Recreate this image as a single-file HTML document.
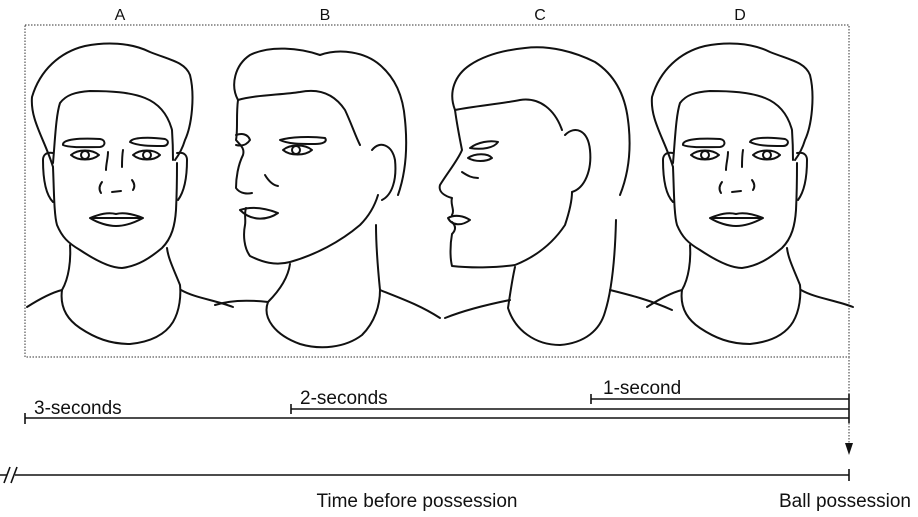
<!DOCTYPE html>
<html><head><meta charset="utf-8"><style>
html,body{margin:0;padding:0;background:#fff;}
svg{display:block;}
text{font-family:"Liberation Sans",sans-serif;fill:#111;}
.l{fill:none;stroke:#111;stroke-width:2;stroke-linecap:round;stroke-linejoin:round;}
.t{fill:none;stroke:#111;stroke-width:1.6;}
</style></head><body>
<svg width="918" height="517" viewBox="0 0 918 517">
<rect x="25" y="25" width="824" height="332" fill="none" stroke="#333" stroke-width="1" stroke-dasharray="1.5,1.5"/>
<text x="120" y="20" font-size="16" text-anchor="middle">A</text>
<text x="325" y="20" font-size="16" text-anchor="middle">B</text>
<text x="540" y="20" font-size="16" text-anchor="middle">C</text>
<text x="740" y="20" font-size="16" text-anchor="middle">D</text>

<g id="faceA">
<path class="l" d="M53,167 C45,140 30,120 32,97 C40,70 60,52 85,46 C105,42 130,42 150,52 C170,60 185,62 190,75 C195,95 192,125 185,140 C182,150 178,156 175,160"/>
<path class="l" d="M53,163 C55,140 56,115 60,103 C66,95 75,92 90,91 C110,91 130,92 145,98 C160,104 168,115 172,130 C173,145 173,155 173,160"/>
<path class="l" d="M53,153 C46,152 43,155 43,160 C43,180 46,195 53,202"/>
<path class="l" d="M177,153 C184,152 187,155 187,160 C187,180 184,192 178,200"/>
<path class="l" d="M53,167 C54,190 54,215 57,225 C62,237 68,243 80,250 C95,260 110,268 122,268 C138,266 150,258 162,248 C172,238 175,225 176,210 C177,190 177,175 177,163"/>
<path class="l" d="M70,245 C71,260 69,278 62,290 C60,305 65,318 80,328 C95,338 110,344 130,344 C150,342 165,335 173,322 C180,310 181,295 180,285 C174,270 168,258 167,248"/>
<path class="l" d="M27,307 C38,300 50,293 62,290"/>
<path class="l" d="M181,290 C195,298 215,300 233,307"/>
<path class="l" d="M63,145 C62,139 80,138 100,139 C106,140 106,146 100,147 C85,147 70,148 63,145 Z"/>
<path class="l" d="M130,142 C132,137 150,137 165,139 C170,141 168,146 163,146 C150,146 138,146 130,142 Z"/>
<path class="l" d="M71,155 C78,149 92,149 99,155 C92,161 78,161 71,155 Z"/>
<circle class="l" cx="85" cy="155" r="4"/>
<path class="l" d="M133,155 C140,149 154,149 160,155 C154,161 140,161 133,155 Z"/>
<circle class="l" cx="147" cy="155" r="4"/>
<path class="l" d="M108,152 C108,158 106,164 106,170"/>
<path class="l" d="M123,150 C122,156 122,161 122,167"/>
<path class="l" d="M102,182 C99,186 99,190 101,193"/>
<path class="l" d="M132,180 C135,184 135,187 133,190"/>
<path class="l" d="M112,192 L121,191"/>
<path class="l" d="M90,218 C100,214 108,212 116,214 C124,212 133,214 143,218 C132,224 122,226 116,226 C108,226 98,223 90,218 Z M92,218 L142,218"/>
</g>
<use href="#faceA" transform="translate(620,0)"/>

<g>
<path class="l" d="M238,100 C230,85 235,65 250,55 C270,45 300,48 320,55 C340,48 365,52 380,65 C395,78 403,95 405,120 C408,150 405,175 398,195"/>
<path class="l" d="M238,100 C255,95 280,95 300,92 C320,88 335,95 345,110 C352,125 355,135 360,145"/>
<path class="l" d="M372,150 C380,140 392,145 395,160 C397,180 392,195 382,200"/>
<path class="l" d="M238,100 C236,115 238,130 236,140 C240,145 245,148 243,155 C238,165 236,178 236,188 C240,194 248,194 252,193 M246,208 C244,214 246,220 245,225 C243,235 244,248 250,256 C262,262 275,266 290,262 C315,255 340,242 360,225 C370,215 375,205 378,195"/>
<path class="l" d="M240,210 C252,206 265,208 278,213 C268,220 252,222 240,210 Z"/>
<path class="l" d="M280,140 C290,137 310,136 325,138 C328,142 322,144 315,144 C300,144 288,144 280,140 Z"/>
<path class="l" d="M283,150 C290,144 305,144 312,150 C305,156 290,156 283,150 Z"/>
<circle class="l" cx="296" cy="150" r="4"/>
<path class="l" d="M236,135 C242,133 248,134 250,140 C246,146 240,146 236,145"/>
<path class="l" d="M265,175 C268,180 272,185 278,186"/>
<path class="l" d="M290,264 C288,278 280,290 268,302 C262,318 275,335 300,344 C320,350 345,348 362,335 C375,322 380,305 380,290 C378,270 376,245 376,225"/>
<path class="l" d="M215,305 C230,300 250,300 268,302"/>
<path class="l" d="M380,290 C400,298 420,305 440,318"/>
</g>

<g>
<path class="l" d="M455,110 C448,92 455,75 470,65 C485,55 505,50 525,48 C550,45 575,52 595,62 C615,75 625,95 628,120 C632,150 628,175 620,195"/>
<path class="l" d="M455,110 C475,106 500,104 520,100 C540,97 555,110 562,130"/>
<path class="l" d="M565,135 C575,125 588,130 590,150 C592,170 585,188 572,192"/>
<path class="l" d="M455,110 C457,125 460,140 462,150 C458,160 448,172 440,185 C438,192 445,196 452,198 C450,204 455,210 452,215 M452,222 C456,226 456,230 452,234 C450,245 450,258 452,266 C470,268 495,268 515,265 C540,255 555,240 565,225 C570,210 572,200 572,192"/>
<path class="l" d="M448,218 C455,214 464,216 470,220 C462,226 452,226 448,218 Z"/>
<path class="l" d="M470,148 C478,142 490,140 498,142 C494,148 482,150 470,148 Z"/>
<path class="l" d="M468,158 C475,153 488,153 492,158 C486,162 475,162 468,158 Z"/>
<path class="l" d="M462,172 C468,176 472,178 478,178"/>
<path class="l" d="M515,267 C512,280 510,295 508,308 C515,330 535,345 560,345 C585,343 600,330 605,312 C612,290 615,260 616,220"/>
<path class="l" d="M445,318 C465,310 490,304 510,300"/>
<path class="l" d="M610,290 C630,295 650,300 672,310"/>
</g>

<g>
<line x1="849" y1="357" x2="849" y2="445" stroke="#333" stroke-width="1" stroke-dasharray="1.5,1.5"/>
<line class="t" x1="591" y1="399" x2="849" y2="399"/>
<line class="t" x1="591" y1="394" x2="591" y2="404"/>
<line class="t" x1="291" y1="409" x2="849" y2="409"/>
<line class="t" x1="291" y1="404" x2="291" y2="414"/>
<line class="t" x1="25" y1="418" x2="849" y2="418"/>
<line class="t" x1="25" y1="413" x2="25" y2="424"/>
<line class="t" x1="849" y1="394" x2="849" y2="423"/>
<text x="603" y="394" font-size="19">1-second</text>
<text x="300" y="404" font-size="19">2-seconds</text>
<text x="34" y="414" font-size="19">3-seconds</text>
<path d="M845,443 L853,443 L849,455 Z" fill="#111"/>
<line class="t" x1="0" y1="475" x2="849" y2="475"/>
<line class="t" x1="849" y1="469" x2="849" y2="481"/>
<rect x="7" y="468" width="8" height="14" fill="#fff"/>
<line class="t" x1="4" y1="483" x2="10" y2="467"/>
<line class="t" x1="11" y1="483" x2="17" y2="467"/>
<text x="417" y="507" font-size="19" text-anchor="middle">Time before possession</text>
<text x="845" y="507" font-size="19" text-anchor="middle">Ball possession</text>
</g>
</svg>
</body></html>
